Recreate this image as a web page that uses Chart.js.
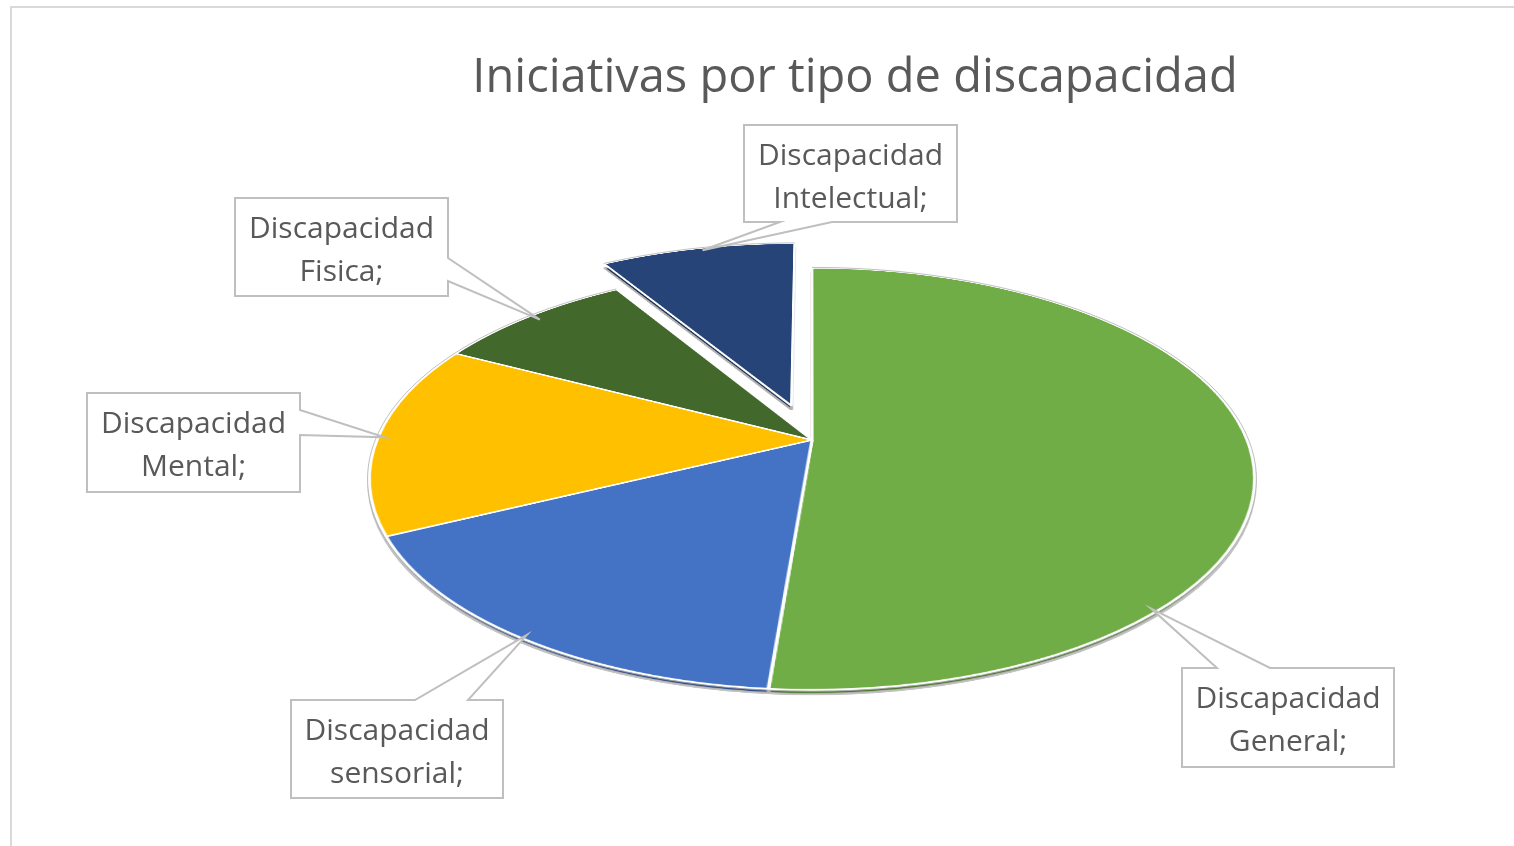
<!DOCTYPE html>
<html>
<head>
<meta charset="utf-8">
<title>Iniciativas por tipo de discapacidad</title>
<script src="https://cdn.jsdelivr.net/npm/chart.js@4.4.1/dist/chart.umd.min.js"></script>
<style>
  html, body { margin: 0; padding: 0; background: #fff; }
  #wrap { width: 1514px; height: 846px; }
</style>
</head>
<body>
<div id="wrap"><canvas id="chart"></canvas></div>
<script>
// data
const categories = ['Discapacidad General', 'Discapacidad sensorial', 'Discapacidad Mental', 'Discapacidad Fisica', 'Discapacidad Intelectual'];
const values = [59, 19, 17, 10, 10];
const sliceColors = ['#70AD47', '#4472C4', '#FFC000', '#43682B', '#264478'];

const FONT = "'Open Sans', 'Noto Sans', sans-serif";

// perspective view of the unit disk (u to the right, v towards the viewer)
function project(o, u, v) {
  const w = 1 + o.c * v;
  return { x: o.x0 + o.a * u / w, y: o.y0 + o.b * v / w };
}

function explodeVec(arc, amount) {
  const mid = (arc.startAngle + arc.endAngle) / 2;
  return { x: Math.cos(mid) * amount, y: Math.sin(mid) * amount };
}

// point of an arc (chart angle, radius in chart px) on the screen
function arcPoint(o, arc, ang, rad, e) {
  const R = arc.outerRadius;
  return project(o, (Math.cos(ang) * rad + e.x) / R, (Math.sin(ang) * rad + e.y) / R);
}

// copy a flat picture of the pie onto the canvas, one row at a time
function warp(ctx, src, o, shiftY) {
  const S = src.width, half = S / 2, unit = o.unit;
  const yTop = Math.floor(project(o, 0, -half / unit).y);
  const yBot = Math.ceil(project(o, 0, half / unit).y);
  for (let ys = yTop; ys <= yBot; ys++) {
    const d = ys + 0.5 - o.y0;
    const v = d / (o.b - o.c * d);
    const sy = half + v * unit;
    if (sy < 0.5 || sy > S - 0.5) continue;
    const w = S / unit * o.a / (1 + o.c * v);
    ctx.drawImage(src, 0, sy - 0.5, S, 1, o.x0 - w / 2, ys + shiftY, w, 1);
  }
}

const tiltedPie = {
  id: 'tiltedPie',
  beforeDraw(chart) {
    const ctx = chart.ctx;
    ctx.save();
    ctx.strokeStyle = '#d9d9d9';
    ctx.lineWidth = 2;
    ctx.strokeRect(11, 7, 1600, 1000);
    ctx.restore();
  },
  beforeDatasetsDraw(chart, args, o) {
    const ctx = chart.ctx;
    const meta = chart.getDatasetMeta(0);
    const S = 1200;
    const flat = document.createElement('canvas');
    flat.width = S; flat.height = S;
    const fctx = flat.getContext('2d');

    meta.data.forEach((arc, i) => {
      const e = explodeVec(arc, o.explode[i] || 0);
      const k = o.unit / arc.outerRadius;
      fctx.save();
      fctx.translate(S / 2, S / 2);
      fctx.scale(k, k);
      fctx.translate(-arc.x + e.x, -arc.y + e.y);
      arc.draw(fctx);
      fctx.restore();
    });

    const dark = document.createElement('canvas');
    dark.width = S; dark.height = S;
    const dctx = dark.getContext('2d');
    dctx.filter = 'brightness(0.7)';
    dctx.drawImage(flat, 0, 0);

    ctx.save();
    ctx.imageSmoothingEnabled = true;
    ctx.imageSmoothingQuality = 'high';
    warp(ctx, dark, o, o.depth);

    // grey edge of the side
    meta.data.forEach((arc, i) => {
      const e = explodeVec(arc, o.explode[i] || 0);
      const steps = 80;
      ctx.beginPath();
      for (let s = 0; s <= steps; s++) {
        const a = arc.startAngle + (arc.endAngle - arc.startAngle) * s / steps;
        const p = arcPoint(o, arc, a, arc.outerRadius, e);
        if (s === 0) ctx.moveTo(p.x, p.y + o.depth + 0.5); else ctx.lineTo(p.x, p.y + o.depth + 0.5);
      }
      ctx.strokeStyle = '#c4c4c4';
      ctx.lineWidth = 1.2;
      ctx.stroke();
    });

    warp(ctx, flat, o, 0);

    // thin grey line round the top face
    meta.data.forEach((arc, i) => {
      const e = explodeVec(arc, o.explode[i] || 0);
      const steps = 80;
      ctx.beginPath();
      for (let s = 0; s <= steps; s++) {
        const a = arc.startAngle + (arc.endAngle - arc.startAngle) * s / steps;
        const p = arcPoint(o, arc, a, arc.outerRadius * 1.004, e);
        if (s === 0) ctx.moveTo(p.x, p.y); else ctx.lineTo(p.x, p.y);
      }
      ctx.strokeStyle = 'rgba(175,175,175,0.8)';
      ctx.lineWidth = 1;
      ctx.stroke();
    });
    ctx.restore();
    return false;
  },
  afterDraw(chart, args, o) {
    const ctx = chart.ctx;
    const meta = chart.getDatasetMeta(0);
    meta.data.forEach((arc, i) => {
      const b = o.boxes[i];
      const e = explodeVec(arc, o.explode[i] || 0);
      const a = arc.startAngle + (arc.endAngle - arc.startAngle) * o.tipAt[i];
      const tip = arcPoint(o, arc, a, arc.outerRadius * o.tipR[i], e);
      const { x, y, w, h } = b;

      ctx.save();
      ctx.beginPath();
      ctx.moveTo(x, y);
      if (b.side === 'top') { ctx.lineTo(x + b.a, y); ctx.lineTo(tip.x, tip.y); ctx.lineTo(x + b.b, y); }
      ctx.lineTo(x + w, y);
      if (b.side === 'right') { ctx.lineTo(x + w, y + b.a); ctx.lineTo(tip.x, tip.y); ctx.lineTo(x + w, y + b.b); }
      ctx.lineTo(x + w, y + h);
      if (b.side === 'bottom') { ctx.lineTo(x + b.b, y + h); ctx.lineTo(tip.x, tip.y); ctx.lineTo(x + b.a, y + h); }
      ctx.lineTo(x, y + h);
      ctx.closePath();
      ctx.fillStyle = '#ffffff';
      ctx.fill();
      ctx.strokeStyle = '#bfbfbf';
      ctx.lineWidth = 2;
      ctx.lineJoin = 'miter';
      ctx.stroke();

      const words = chart.data.labels[i].split(' ');
      const lines = [words[0], words.slice(1).join(' ') + ';'];
      ctx.fillStyle = '#595959';
      ctx.font = `${o.labelSize}px ${FONT}`;
      ctx.textAlign = 'center';
      ctx.textBaseline = 'alphabetic';
      ctx.fillText(lines[0], x + w / 2, y + 40);
      ctx.fillText(lines[1], x + w / 2, y + 83);
      ctx.restore();
    });
  }
};

new Chart(document.getElementById('chart'), {
  type: 'pie',
  data: {
    labels: categories,
    datasets: [{
      data: values,
      backgroundColor: sliceColors,
      borderColor: '#ffffff',
      borderWidth: 1.4
    }]
  },
  options: {
    responsive: true,
    maintainAspectRatio: false,
    animation: false,
    radius: 200,
    layout: { padding: { left: 196 } },
    plugins: {
      legend: { display: false },
      tooltip: { enabled: false },
      title: {
        display: true,
        text: 'Iniciativas por tipo de discapacidad',
        color: '#595959',
        font: { family: FONT, size: 47, weight: 'normal' },
        padding: { top: 50, bottom: 10 }
      },
      tiltedPie: {
        x0: 812, y0: 440, a: 435, b: 203.8, c: -0.1848, unit: 480, depth: 4,
        explode: [0, 0, 0, 0, 36],
        tipAt: [0.74, 0.5, 0.5, 0.51, 0.52],
        tipR: [0.985, 0.985, 0.985, 0.966, 0.985],
        labelSize: 30,
        boxes: [
          { x: 1182, y: 668, w: 212, h: 99, side: 'top', a: 35, b: 88 },
          { x: 291, y: 700, w: 212, h: 98, side: 'top', a: 124, b: 177 },
          { x: 87, y: 393, w: 213, h: 99, side: 'right', a: 17, b: 42 },
          { x: 235, y: 198, w: 213, h: 98, side: 'right', a: 60, b: 83 },
          { x: 744, y: 125, w: 213, h: 97, side: 'bottom', a: 36, b: 88 }
        ]
      }
    }
  },
  plugins: [tiltedPie]
});
</script>
</body>
</html>
